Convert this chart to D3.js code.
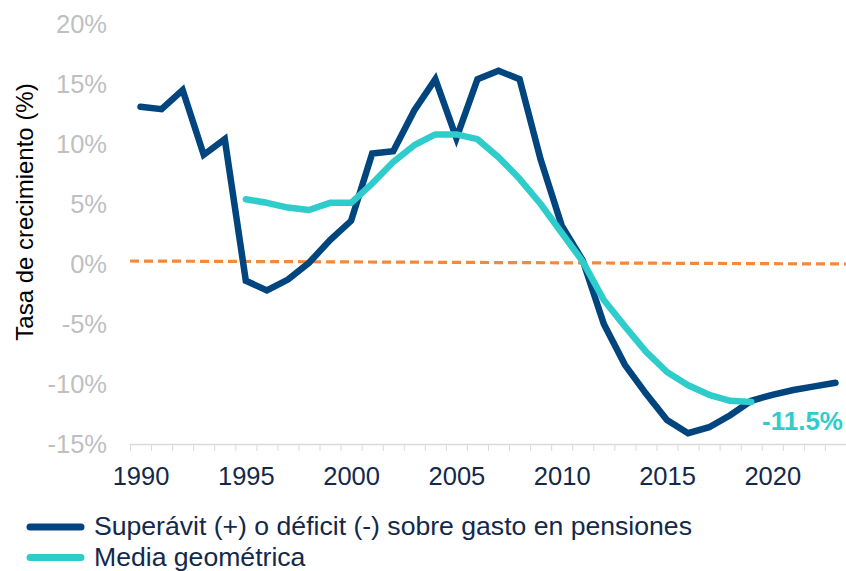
<!DOCTYPE html>
<html>
<head>
<meta charset="utf-8">
<script src="https://cdn.jsdelivr.net/npm/d3@7"></script>
<style>
  html, body { margin: 0; padding: 0; background: #fff; }
  svg { display: block; font-family: "Liberation Sans", Arial, sans-serif; }
</style>
</head>
<body>
<svg id="chart" width="846" height="571"></svg>
<script>
// ---- data ----
const years = d3.range(1990, 2024);
const superavit = [13.1, 12.9, 14.5, 9.1, 10.4, -1.4, -2.2, -1.3, 0.1, 2.0, 3.6, 9.2, 9.4, 12.8,
  15.4, 10.5, 15.4, 16.1, 15.4, 8.7, 3.2, 0.3, -5.0, -8.4, -10.8, -13.0, -14.1, -13.6, -12.6,
  -11.4, -10.9, -10.5, -10.2, -9.9];
const mediaYears = d3.range(1995, 2020);
const media = [5.4, 5.1, 4.7, 4.5, 5.1, 5.1, 6.7, 8.5, 9.9, 10.8, 10.8, 10.4, 8.9, 7.1, 5.0,
  2.6, 0.2, -3.0, -5.2, -7.3, -9.0, -10.1, -10.9, -11.4, -11.5];
const refYears = [1989.5, 2023.5];
const refValues = [0.25, 0.0];
const yTicks = [-15, -10, -5, 0, 5, 10, 15, 20];
const xLabelYears = [1990, 1995, 2000, 2005, 2010, 2015, 2020];
const tickEdges = d3.range(1989.5, 2024, 1);
const seriesNames = ["Superávit (+) o déficit (-) sobre gasto en pensiones", "Media geométrica"];
const endLabel = "-11.5%";
const yTitle = "Tasa de crecimiento (%)";

// ---- layout ----
const svg = d3.select("#chart");
const x = d3.scaleLinear().domain([1989.5, 2023.5]).range([130, 846]);
const y = d3.scaleLinear().domain([-15, 20]).range([444, 24]);

const cDark = "#00457E", cCyan = "#2ECDCB", cOrange = "#F5893B";
const cTick = "#BFBFBF", cText = "#13294B";

// x axis ticks (edges)
const gx = svg.append("g").attr("transform", `translate(0,${y(-15)})`)
  .call(d3.axisBottom(x).tickValues(tickEdges).tickSize(7).tickFormat("").tickSizeOuter(0));
gx.select(".domain").attr("stroke", "#D9D9D9").attr("stroke-width", 1.5);
gx.selectAll(".tick line").attr("stroke", "#D9D9D9").attr("stroke-width", 1);

// x labels
const gxl = svg.append("g").attr("transform", `translate(0,${y(-15)})`)
  .call(d3.axisBottom(x).tickValues(xLabelYears).tickSize(0).tickPadding(0).tickFormat(d3.format("d")));
gxl.select(".domain").remove();
gxl.selectAll("text").attr("fill", cText).attr("font-size", 25.5)
  .attr("font-family", "'Liberation Sans', Arial, sans-serif").attr("dy", null).attr("y", 41);

// y labels
const gy = svg.append("g").attr("transform", `translate(107,0)`)
  .call(d3.axisLeft(y).tickValues(yTicks).tickSize(0).tickPadding(0).tickFormat(d => d + "%"));
gy.select(".domain").remove();
gy.selectAll("text").attr("fill", cTick).attr("font-size", 25.5)
  .attr("font-family", "'Liberation Sans', Arial, sans-serif");

// y title
svg.append("text")
  .attr("transform", `translate(33,212) rotate(-90)`)
  .attr("text-anchor", "middle")
  .attr("font-size", 24).attr("fill", "#000")
  .text(yTitle);

// reference dashed line
const refData = refYears.map((yr, i) => ({ yr, v: refValues[i] }));
svg.append("path").datum(refData)
  .attr("fill", "none").attr("stroke", cOrange).attr("stroke-width", 3.2)
  .attr("stroke-dasharray", "9,5")
  .attr("d", d3.line().x(d => x(d.yr)).y(d => y(d.v)));

// superavit line
const supData = years.map((yr, i) => ({ yr, v: superavit[i] }));
svg.append("path").datum(supData)
  .attr("fill", "none").attr("stroke", cDark).attr("stroke-width", 6.5)
  .attr("stroke-linecap", "round").attr("stroke-linejoin", "miter").attr("stroke-miterlimit", 3)
  .attr("d", d3.line().x(d => x(d.yr)).y(d => y(d.v)));

// media line
const medData = mediaYears.map((yr, i) => ({ yr, v: media[i] }));
svg.append("path").datum(medData)
  .attr("fill", "none").attr("stroke", cCyan).attr("stroke-width", 6.5)
  .attr("stroke-linecap", "round").attr("stroke-linejoin", "round")
  .attr("d", d3.line().x(d => x(d.yr)).y(d => y(d.v)));

// end label
const last = medData[medData.length - 1];
svg.append("text")
  .attr("x", 843).attr("y", y(last.v) + 28)
  .attr("text-anchor", "end").attr("font-weight", "bold")
  .attr("font-size", 26).attr("fill", cCyan)
  .text(endLabel);

// legend
const legend = svg.append("g");
[cDark, cCyan].forEach((c, i) => {
  const ly = 527 + i * 30.5;
  legend.append("line").attr("x1", 30).attr("x2", 81).attr("y1", ly).attr("y2", ly)
    .attr("stroke", c).attr("stroke-width", 7).attr("stroke-linecap", "round");
  legend.append("text").attr("x", 94).attr("y", ly + 8)
    .attr("font-size", 26.6).attr("fill", cText).text(seriesNames[i]);
});
</script>
</body>
</html>
